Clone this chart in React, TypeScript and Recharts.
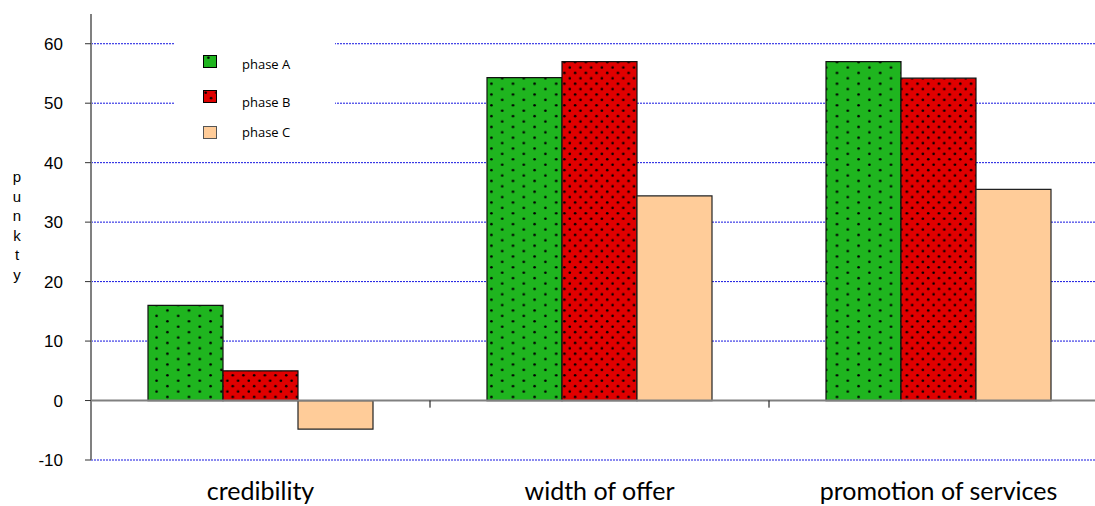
import React from 'react';
import {
  BarChart,
  Bar,
  XAxis,
  YAxis,
  CartesianGrid,
  ReferenceLine,
  Legend,
} from 'recharts';

// Survey results per area, in points
const categories = ['credibility', 'width of offer', 'promotion of services'];
const phaseA = [16, 54.3, 57];
const phaseB = [5, 57, 54.2];
const phaseC = [-4.8, 34.4, 35.5];
const seriesNames = ['phase A', 'phase B', 'phase C'];
const yTicks = [-10, 0, 10, 20, 30, 40, 50, 60];
const gridValues = [-10, 10, 20, 30, 40, 50, 60];
const yDomain = [-10, 65];
const axisTitle = 'punkty';

const data = categories.map((name, i) => ({
  name,
  a: phaseA[i],
  b: phaseB[i],
  c: phaseC[i],
}));

const GREEN = '#1fb51f';
const RED = '#e00000';
const PEACH = '#ffcc99';

const LegendBox = (props: any) => {
  const rows = [24, 59, 95];
  const textShift = [3, 6, 0];
  const items = props.payload || [];
  return (
    <div style={{ position: 'relative', width: 160, height: 122, background: '#fff' }}>
      {items.map((entry: any, i: number) => (
        <div key={entry.value} style={{ position: 'absolute', left: 28, top: rows[i], height: 14, display: 'flex', alignItems: 'center', whiteSpace: 'nowrap' }}>
          <svg width={14} height={13} style={{ display: 'block' }}>
            <rect x={0.5} y={0.5} width={13} height={12} fill={entry.color} stroke={i === 2 ? '#555' : '#000'} strokeWidth={1} />
          </svg>
          <span style={{ marginLeft: 25, fontFamily: 'Open Sans, sans-serif', fontSize: 13, color: '#000', lineHeight: '14px', position: 'relative', top: textShift[i] }}>
            {entry.value}
          </span>
        </div>
      ))}
    </div>
  );
};

const StackedTitle = (props: any) => {
  const vb = props.viewBox || { x: 0, y: 0, width: 0, height: 0 };
  const letters = axisTitle.split('');
  const step = 19.6;
  const cx = vb.x + 17;
  const startY = vb.y + vb.height / 2 - ((letters.length - 1) * step) / 2 - 6;
  return (
    <text x={cx} y={startY} textAnchor="middle" fontFamily="Liberation Sans, Arial, sans-serif" fontSize={15} fill="#000">
      {letters.map((ch, i) => (
        <tspan key={i} x={cx} dy={i === 0 ? 0 : step}>
          {ch}
        </tspan>
      ))}
    </text>
  );
};

export default function App() {
  return (
    <div style={{ position: 'absolute', left: 0, top: 0, width: 1095, height: 506, overflow: 'hidden', background: '#fff' }}>
      <BarChart
        width={1110}
        height={506}
        data={data}
        margin={{ top: 14, right: 2, bottom: 0, left: 0 }}
        barCategoryGap={57}
        barGap={0}
      >
        <defs>
          <pattern id="dotsGreen" width={21.6} height={10.8} patternUnits="userSpaceOnUse">
            <rect x={0} y={0} width={21.6} height={10.8} fill={GREEN} />
            <circle cx={5.4} cy={2.7} r={1.3} fill="#000" />
            <circle cx={16.2} cy={8.1} r={1.3} fill="#000" />
          </pattern>
          <pattern id="dotsRed" width={10.7} height={10.8} patternUnits="userSpaceOnUse">
            <rect x={0} y={0} width={10.7} height={10.8} fill={RED} />
            <circle cx={2.7} cy={2.7} r={1.3} fill="#000" />
            <circle cx={8.05} cy={8.1} r={1.3} fill="#000" />
          </pattern>
        </defs>
        <CartesianGrid
          vertical={false}
          horizontalValues={gridValues}
          stroke="#1414e0"
          strokeDasharray="2 1"
          strokeWidth={1}
        />
        <XAxis
          dataKey="name"
          axisLine={false}
          tickLine={false}
          height={46}
          tickMargin={16}
          tick={{ fontSize: 25, fontFamily: 'Lato, sans-serif', fill: '#000' }}
          interval={0}
        />
        <YAxis
          domain={yDomain}
          ticks={yTicks}
          allowDataOverflow
          width={91}
          axisLine={{ stroke: '#808080', strokeWidth: 2 }}
          tickLine={{ stroke: '#333', strokeWidth: 1 }}
          tickSize={6}
          tickMargin={22}
          tick={{ fontSize: 17, fontFamily: 'Liberation Sans, Arial, sans-serif', fill: '#000' }}
          label={{ content: (p: any) => <StackedTitle {...p} /> }}
        />
        <Legend
          layout="vertical"
          align="center"
          verticalAlign="middle"
          wrapperStyle={{ position: 'absolute', left: 175, top: 30, width: 160, height: 122 }}
          content={(p: any) => <LegendBox {...p} />}
        />
        <Bar dataKey="a" name={seriesNames[0]} fill="url(#dotsGreen)" stroke="#111" strokeWidth={1.2} isAnimationActive={false} />
        <Bar dataKey="b" name={seriesNames[1]} fill="url(#dotsRed)" stroke="#111" strokeWidth={1.2} isAnimationActive={false} />
        <Bar dataKey="c" name={seriesNames[2]} fill={PEACH} stroke="#222" strokeWidth={1.2} isAnimationActive={false} />
        <ReferenceLine y={0} stroke="#808080" strokeWidth={2} />
        {categories.slice(1).map((c) => (
          <ReferenceLine
            key={c}
            segment={[{ x: c, y: 0 }, { x: c, y: -1.2 }]}
            position="start"
            stroke="#000"
            strokeWidth={1}
          />
        ))}
      </BarChart>
    </div>
  );
}
